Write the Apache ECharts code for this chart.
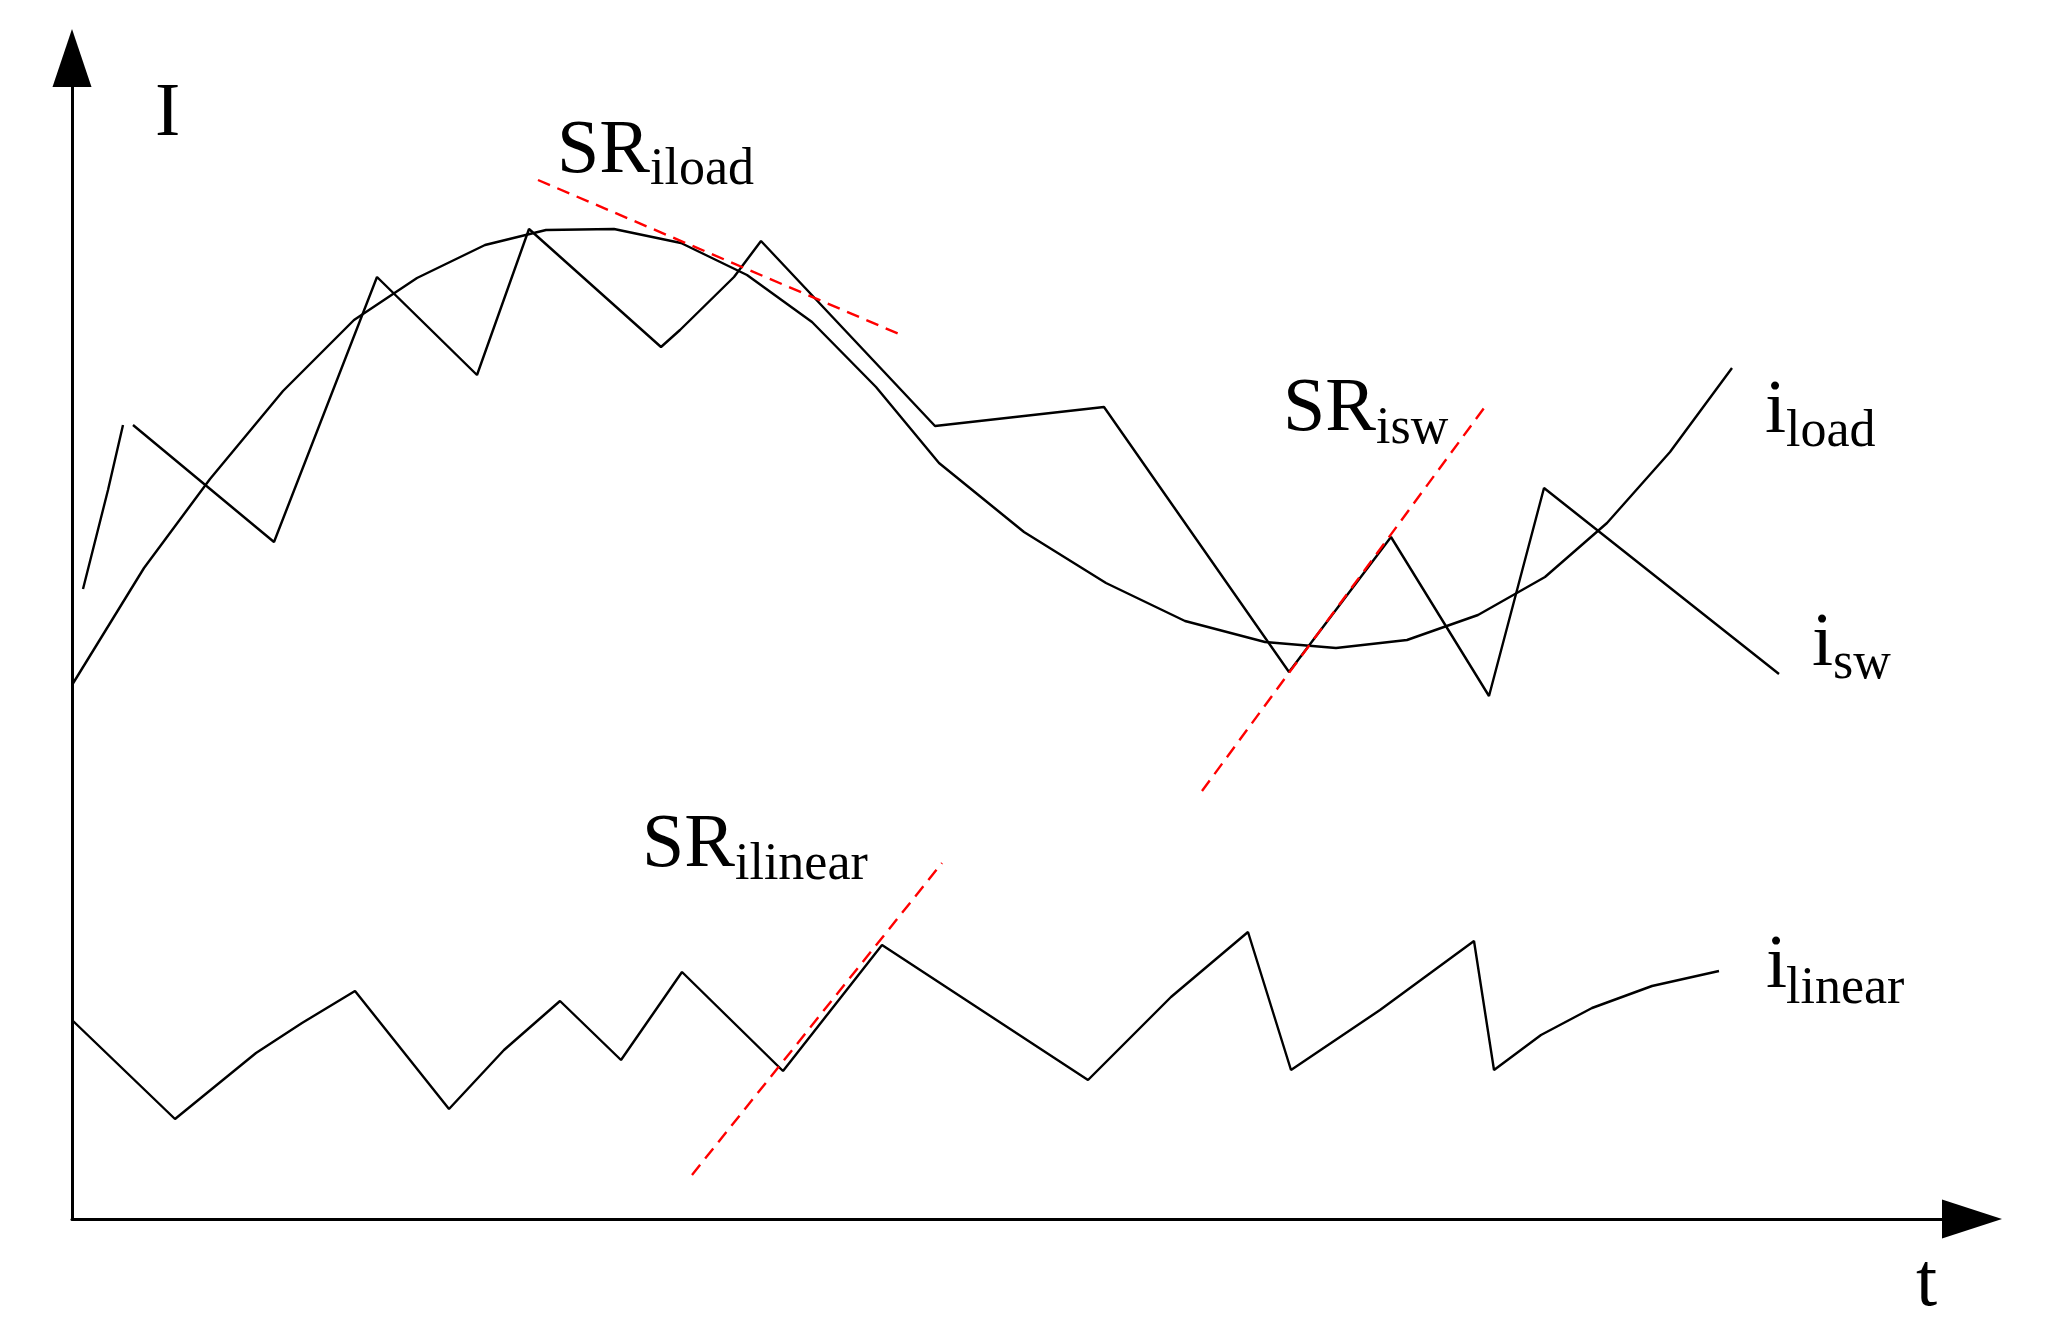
<!DOCTYPE html>
<html>
<head>
<meta charset="utf-8">
<script src="https://cdn.jsdelivr.net/npm/echarts@6/dist/echarts.min.js"></script>
<style>
html,body{margin:0;padding:0;background:#fff;}
#chart{width:2056px;height:1331px;}
</style>
</head>
<body>
<div id="chart"></div>
<script>
// ---- data (schematic units: t along x, I along y) ----
const iswLead = [[11,630],[36,729],[51,794]];
const iSw = [[61,794],[202,677],[305,942],[405,844],[457,990],[589,872],[608,889],[662,942],[689,978],[863,793],[1032,812],[1217,547],[1319,682],[1417,523],[1472,731],[1707,545]];
const iLoad = [[0,534],[72,651],[138,740],[211,828],[282,899],[345,941],[413,974],[474,989],[542,990],[609,976],[675,944],[740,897],[804,832],[867,756],[952,687],[1034,636],[1113,598],[1193,577],[1264,571],[1335,579],[1406,604],[1473,642],[1535,696],[1598,767],[1660,851]];
const iLinear = [[0,199],[103,100],[184,166],[230,196],[283,228],[377,110],[432,169],[488,218],[549,159],[610,247],[711,148],[810,274],[1016,139],[1099,222],[1176,287],[1219,149],[1308,209],[1402,278],[1422,149],[1469,184],[1520,211],[1580,233],[1647,248]];
const srILoad = [[466,1039],[827,885]];
const srISw = [[1130,428],[1415,815]];
const srILinear = [[620,44],[870,356]];

const xMax = 1900, yMax = 1161;

// ---- text ----
const FONT = "'Liberation Serif','Times New Roman',serif";
const MAIN = 76, SUB = 52;
function txt(x, baseY, size, text) {
  return {
    type: 'text', x: x, y: baseY + 4 - 0.3375 * size, silent: true, z: 100,
    style: { text: text, font: size + 'px ' + FONT, fill: '#000',
             align: 'left', verticalAlign: 'middle', textAlign: 'left', textVerticalAlign: 'middle' }
  };
}
const graphics = [
  txt(155, 137, MAIN, 'I'),
  txt(557, 174, MAIN, 'SR'), txt(650, 184, SUB, 'iload'),
  txt(1283, 432, MAIN, 'SR'), txt(1376, 443, SUB, 'isw'),
  txt(642, 868, MAIN, 'SR'), txt(735, 879, SUB, 'ilinear'),
  txt(1765, 434, MAIN, 'i'), txt(1786, 446, SUB, 'load'),
  txt(1812, 667, MAIN, 'i'), txt(1833, 678, SUB, 'sw'),
  txt(1766, 989, MAIN, 'i'), txt(1786, 1003, SUB, 'linear'),
  txt(1916, 1307, MAIN, 't')
];

function blackLine(name, data) {
  return { name: name, type: 'line', data: data, showSymbol: false, symbol: 'none', silent: true,
           lineStyle: { color: '#000', width: 2.4 }, z: 2 };
}
function redLine(name, data) {
  return { name: name, type: 'line', data: data, showSymbol: false, symbol: 'none', silent: true,
           lineStyle: { color: '#ff0000', width: 2.4, type: [13, 8] }, z: 3 };
}

const axisCommon = {
  type: 'value', min: 0,
  axisTick: { show: false }, axisLabel: { show: false }, splitLine: { show: false }
};

const chart = echarts.init(document.getElementById('chart'), null, { renderer: 'canvas' });
chart.setOption({
  animation: false,
  backgroundColor: '#fff',
  grid: { left: 72, right: 84, top: 58, bottom: 112, containLabel: false },
  xAxis: Object.assign({}, axisCommon, { max: xMax,
    axisLine: { show: true, onZero: false, symbol: ['none', 'triangle'], symbolSize: [39, 60],
                lineStyle: { color: '#000', width: 3 } } }),
  yAxis: Object.assign({}, axisCommon, { max: yMax,
    axisLine: { show: true, onZero: false, symbol: ['none', 'triangle'], symbolSize: [39, 58],
                lineStyle: { color: '#000', width: 3 } } }),
  series: [
    blackLine('iswLead', iswLead),
    blackLine('isw', iSw),
    blackLine('iload', iLoad),
    blackLine('ilinear', iLinear),
    redLine('SRiload', srILoad),
    redLine('SRisw', srISw),
    redLine('SRilinear', srILinear)
  ],
  graphic: graphics
});
</script>
</body>
</html>
